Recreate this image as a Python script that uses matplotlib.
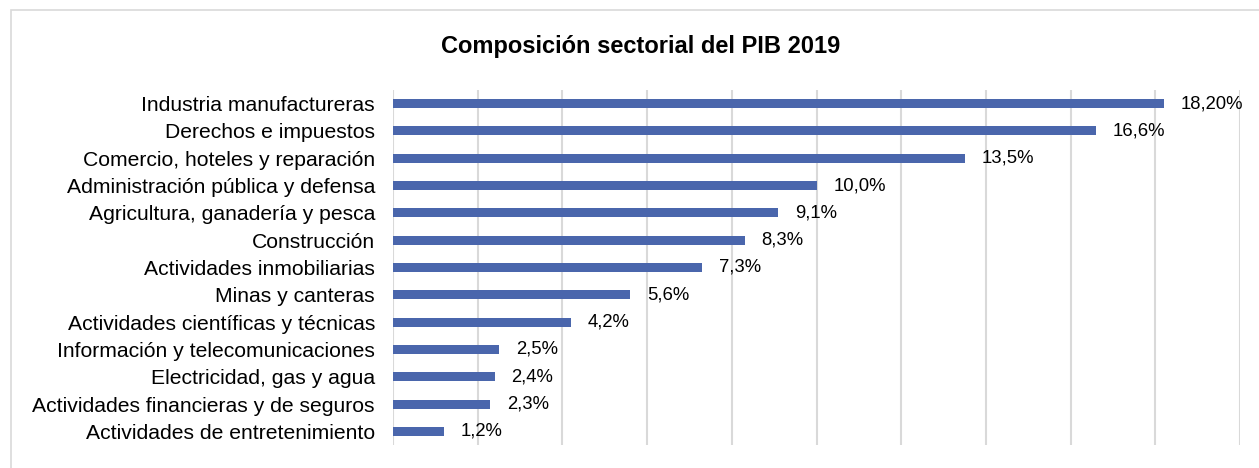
import matplotlib.pyplot as plt
from matplotlib.patches import Rectangle

plt.rcParams['font.family'] = ['Liberation Sans', 'DejaVu Sans']

sectores = ['Industria manufactureras', 'Derechos e impuestos',
            'Comercio, hoteles y reparación', 'Administración pública y defensa',
            'Agricultura, ganadería y pesca', 'Construcción',
            'Actividades inmobiliarias', 'Minas y canteras',
            'Actividades científicas y técnicas', 'Información y telecomunicaciones',
            'Electricidad, gas y agua', 'Actividades financieras y de seguros',
            'Actividades de entretenimiento']
valores = [18.2, 16.6, 13.5, 10.0, 9.1, 8.3, 7.3, 5.6, 4.2, 2.5, 2.4, 2.3, 1.2]
etiquetas = ['18,20%', '16,6%', '13,5%', '10,0%', '9,1%', '8,3%', '7,3%',
             '5,6%', '4,2%', '2,5%', '2,4%', '2,3%', '1,2%']

fig = plt.figure(figsize=(12.59, 4.68), dpi=100)
ax = fig.add_axes([393/1259, 1-445/468, (1240-393)/1259, (445-90)/468])

y = list(range(len(sectores)))
ax.barh(y, valores, height=0.33, color='#4a66ac', zorder=3)
for yi, v, t in zip(y, valores, etiquetas):
    ax.text(v + 0.4, yi, t, va='center', ha='left', fontsize=13.3)

ax.set_xlim(0, 20)
ax.set_ylim(-0.5, len(sectores) - 0.5)
ax.invert_yaxis()
ax.set_xticks(range(0, 21, 2))
ax.set_xticklabels([])
ax.set_yticks(y)
ax.set_yticklabels(sectores, fontsize=15.2)
ax.tick_params(length=0, pad=13)
ax.xaxis.grid(True, color='#d9d9d9', linewidth=1.5, zorder=0)
for s in ax.spines.values():
    s.set_visible(False)

fig.text(641/1259, 1-46/468, 'Composición sectorial del PIB 2019', ha='center', va='center',
         fontsize=17, fontweight='bold')
fig.patches.append(Rectangle((11/1259, -0.1), 1.1, 1.1 - 10/468, transform=fig.transFigure,
                             fill=False, edgecolor='#d9d9d9', linewidth=1.2))

fig.savefig('out.png', dpi=100)
